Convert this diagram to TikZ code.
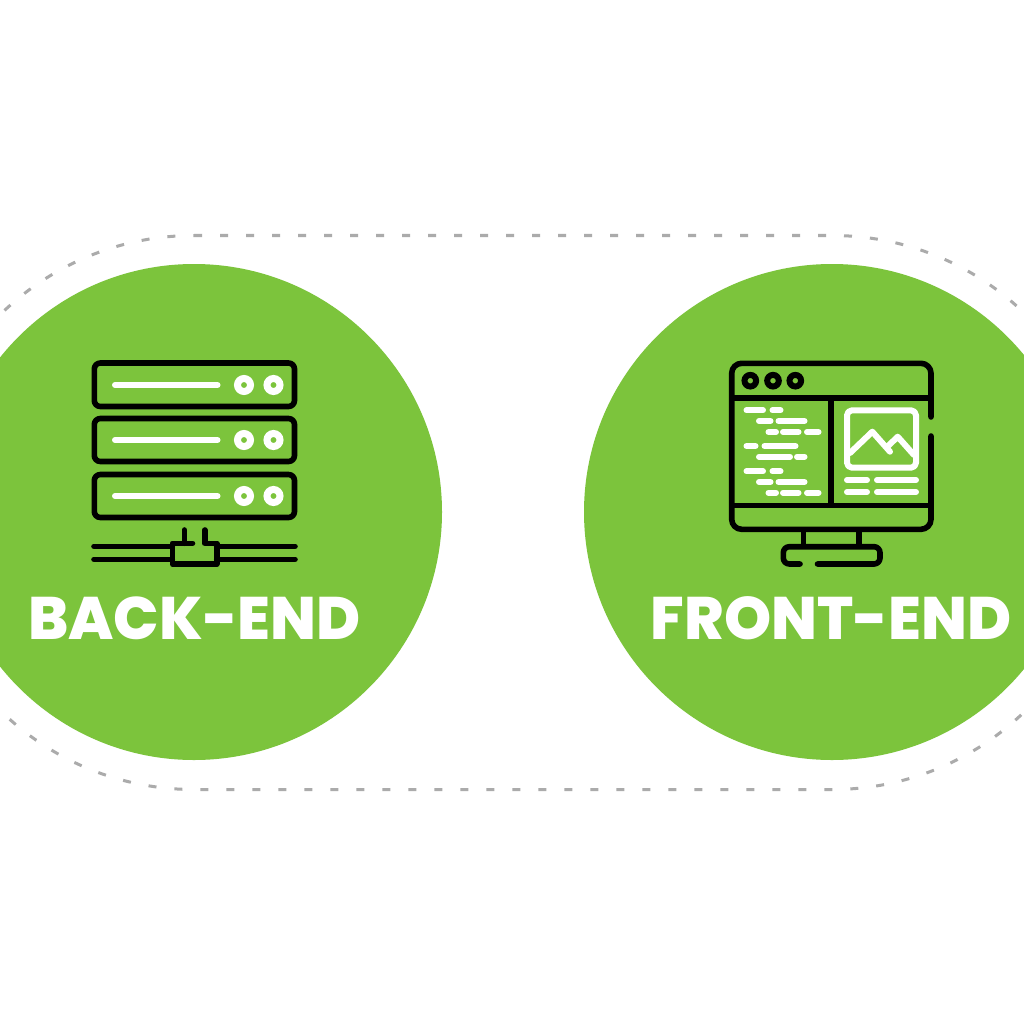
\documentclass[tikz,border=0pt]{standalone}
\usepackage{fontspec}
\newfontfamily\labfont{Poppins ExtraBold}
\definecolor{leaf}{HTML}{7CC43C}
\definecolor{dashgrey}{HTML}{ABABAB}
\tikzset{
  x=1pt,y=-1pt,
  disc/.style={circle,fill=leaf,draw=none,minimum size=496pt,inner sep=0pt},
  inkb/.style={draw=black,line width=5.6pt,line cap=round,line join=round},
  inkw/.style={draw=white,line width=6pt,line cap=round,line join=round},
  ringw/.style={draw=white,line width=7pt},
  ringb/.style={draw=black,line width=6pt},
  pill/.style={draw=dashgrey,line width=3pt,dash pattern=on 8pt off 18pt},
  lab/.style={text=white,font=\labfont\fontsize{60}{60}\selectfont,inner sep=0pt,anchor=center}
}
\begin{document}
\begin{tikzpicture}
\useasboundingbox (0,0) rectangle (1024,1024);
\clip (0,0) rectangle (1024,1024);
\fill[white] (0,0) rectangle (1024,1024);
% dashed outline
\draw[pill] (194,235.5) -- (832,235.5) arc[start angle=90,end angle=-90,x radius=277,y radius=-277] -- (194,789.5) arc[start angle=-90,end angle=-270,x radius=277,y radius=-277] -- cycle;
\node[disc] (backdisc) at (194,512) {};
\node[disc] (frontdisc) at (832,512) {};
% server icon
\foreach \t/\b/\m in {363/406.5/385,418.5/461.5/440,474.5/517.5/496}{
  \draw[inkb,rounded corners=6pt] (94.3,\t) rectangle (294.5,\b);
  \draw[inkw] (115,\m) -- (217.5,\m);
  \draw[ringw] (244,\m) circle[radius=6.5];
  \draw[ringw] (273.5,\m) circle[radius=6.5];
}
\draw[inkb] (94,546.3) -- (172.3,546.3);
\draw[inkb] (94,559.3) -- (172.3,559.3);
\draw[inkb] (216.7,546.3) -- (295,546.3);
\draw[inkb] (216.7,559.3) -- (295,559.3);
\draw[inkb] (192.5,543.3) -- (172.3,543.3) -- (172.3,564) -- (216.7,564) -- (216.7,543.3) -- (204.7,543.3) -- (204.7,530);
\draw[inkb] (184.3,530) -- (184.3,543.3);
% monitor icon
\draw[inkb,rounded corners=10pt] (931,417) -- (931,363.3) -- (731.7,363.3) -- (731.7,529.3) -- (931,529.3) -- (931,436);
\draw[inkb,line cap=butt] (731.7,398) -- (931,398);
\draw[inkb,line cap=butt] (731.7,505.3) -- (931,505.3);
\draw[inkb,line cap=butt] (830.7,398) -- (830.7,505.3);
\foreach \c in {750.3,773,795.3}{\draw[ringb] (\c,380.7) circle[radius=5.8];}
\draw[inkb,line cap=butt] (803.3,529.3) -- (803.3,546.7);
\draw[inkb,line cap=butt] (859,529.3) -- (859,546.7);
\draw[inkb,rounded corners=6pt] (800,564) -- (783.3,564) -- (783.3,546.7) -- (880,546.7) -- (880,564) -- (817.5,564);
% code lines
\foreach \y/\a/\b in {
 410.3/746.5/763, 410.3/772.5/780.5,
 421/759/770.5, 421/778.5/804.5,
 432/768.5/776, 432/783/798.5, 432/807/818.5,
 446/746.5/755.5, 446/764.5/795.5,
 456.7/759/790, 456.7/797/804.5,
 471.3/746.5/763, 471.3/772.5/780.5,
 482/759/770.5, 482/778.5/804.5,
 492.7/768.5/776, 492.7/783/798.5, 492.7/807/818.5,
 480/847/867, 480/877/916,
 492/847/867, 492/877/916}{
  \draw[inkw] (\a,\y) -- (\b,\y);
}
% picture frame
\draw[inkw,rounded corners=5pt] (847,410.3) rectangle (916,467.7);
\draw[inkw] (850,453) -- (872.3,431.7) -- (890,451.7);
\draw[inkw] (887,447) -- (897.7,436.7) -- (914,455);
% labels
\node[lab] (backlabel) at (194.5,618) {BACK-END};
\node[lab] (frontlabel) at (831,618) {FRONT-END};
\end{tikzpicture}
\end{document}
